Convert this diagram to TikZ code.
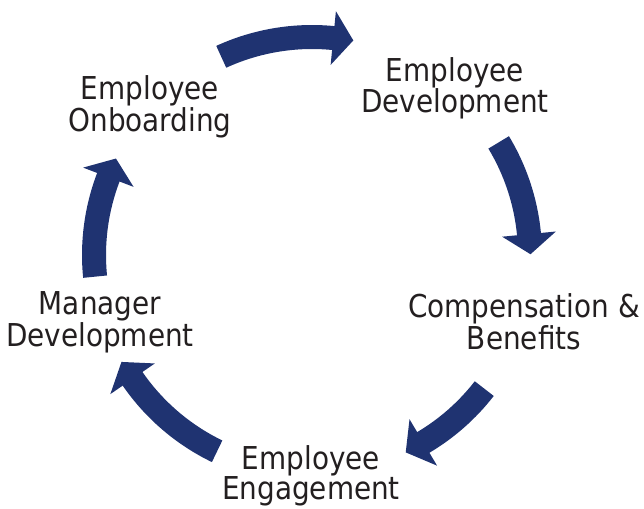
\documentclass[tikz,border=0pt]{standalone}
\usepackage{fontspec}
\setmainfont[FakeStretch=0.885]{DejaVu Sans}
\definecolor{arrowblue}{RGB}{31,51,113}
\definecolor{textgray}{RGB}{35,31,32}
% #1 tail angle, #2 angle of the head base (arrows run clockwise round C)
\newcommand\cycarrow[2]{%
  \fill[cyc] ([shift={(#1:230)}]C) arc[start angle=#1, end angle=#2, radius=230]
    -- ([shift={(#2:245)}]C) -- ([shift={(#2-5.3:218.5)}]C) -- ([shift={(#2:191)}]C)
    -- ([shift={(#2:206)}]C) arc[start angle=#2, end angle=#1, radius=206] -- cycle;}
\begin{document}
\begin{tikzpicture}[x=1pt,y=1pt,
  lbl/.style={align=center, anchor=base, inner sep=0pt, text=textgray,
    font=\fontsize{31.5}{30}\selectfont},
  cyc/.style={fill=arrowblue, draw=none}]
\useasboundingbox (0,0) rectangle (644,-508);
\coordinate (C) at (312,-255);
% base anchor = baseline of the last line
\node[lbl] (onb) at (150,-131) {Employee\\Onboarding};
\node[lbl] (dev) at (455,-113) {Employee\\Development};
\node[lbl] (comp) at (524,-349) {Compensation \&\\Benefits};
\node[lbl] (eng) at (311,-499) {Employee\\Engagement};
\node[lbl] (mgr) at (100,-346) {Manager\\Development};
\cycarrow{114.6}{84.4}
\cycarrow{31.1}{5.5}
\cycarrow{-37.8}{-59.3}
\cycarrow{244.2}{214.6}
\cycarrow{185.7}{159.1}
\end{tikzpicture}
\end{document}
